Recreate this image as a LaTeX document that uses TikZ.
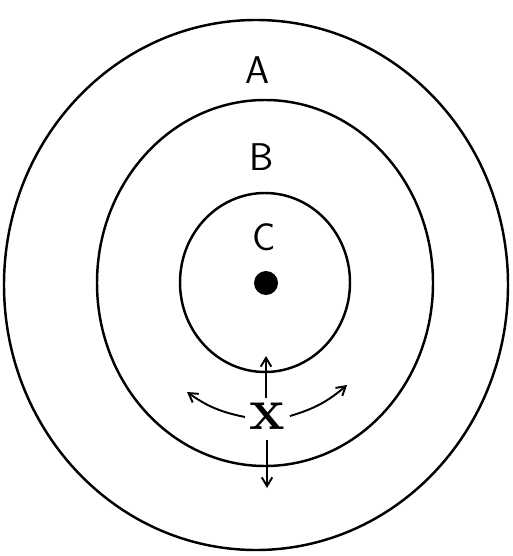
\documentclass[tikz,border=0pt]{standalone}
\usepackage{tikz}
\usetikzlibrary{arrows.meta, positioning}

\begin{document}
\begin{tikzpicture}[
  ring/.style={draw=black, line width=1.4pt},
  lbl/.style={font=\fontsize{22}{24}\selectfont\sffamily, inner sep=1pt},
  move/.style={-{Straight Barb[length=5pt, width=6pt]}, line width=1.1pt}
]
  \useasboundingbox (0,0) rectangle (10.24,-11.12);
  % the three zones
  \draw[ring] (5.12,-5.70) ellipse [x radius=5.04, y radius=5.30];
  \draw[ring] (5.30,-5.66) ellipse [x radius=3.36, y radius=3.66];
  \draw[ring] (5.30,-5.65) ellipse [x radius=1.70, y radius=1.79];
  \fill (5.32,-5.66) circle (0.24);
  \node[lbl] (zoneA) at (5.16,-1.40) {A};
  \node[lbl] (zoneB) at (5.24,-3.14) {B};
  \node[lbl] (zoneC) at (5.28,-4.74) {C};
  % the point and its moves
  \node[font=\fontsize{34}{36}\selectfont\bfseries, inner sep=0pt] (pt) at (5.34,-8.32) {x};
  \coordinate (up) at (5.32,-7.12);
  \coordinate (down) at (5.34,-9.76);
  \coordinate (left) at (3.74,-7.84);
  \coordinate (right) at (6.94,-7.70);
  \draw[move] (5.32,-7.96) -- (up);
  \draw[move] (5.34,-8.80) -- (down);
  \draw[move] (4.90,-8.34) to[bend left=12] (left);
  \draw[move] (5.80,-8.32) to[bend right=12] (right);
\end{tikzpicture}
\end{document}
